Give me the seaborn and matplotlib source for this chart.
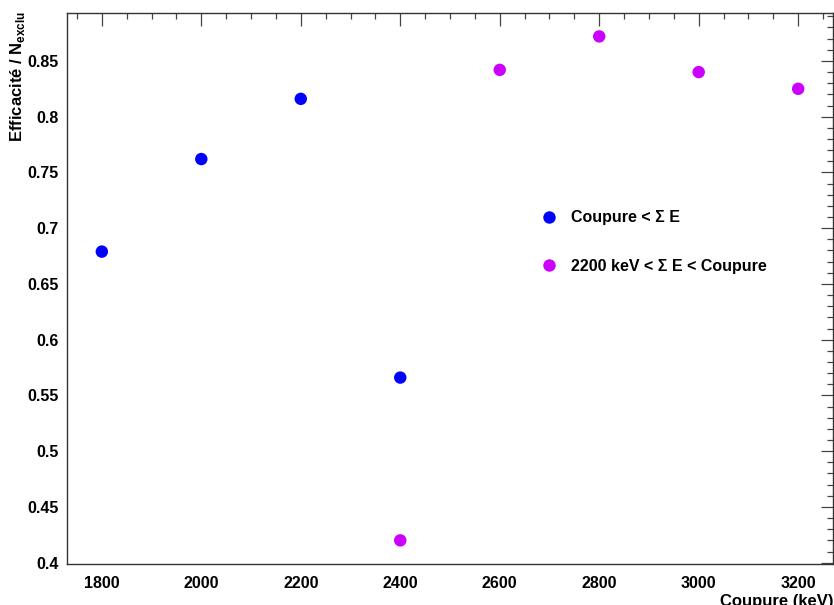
import matplotlib
matplotlib.use("Agg")
import matplotlib.pyplot as plt
import seaborn as sns
import pandas as pd
from matplotlib.ticker import MultipleLocator, FuncFormatter

sns.set_style("white")
plt.rcParams['font.family'] = ['Liberation Sans', 'DejaVu Sans']
plt.rcParams['font.weight'] = 'bold'
plt.rcParams['text.color'] = 'black'
plt.rcParams['xtick.labelcolor'] = 'black'
plt.rcParams['ytick.labelcolor'] = 'black'
plt.rcParams['mathtext.fontset'] = 'custom'
plt.rcParams['mathtext.rm'] = 'Liberation Sans:bold'
plt.rcParams['mathtext.bf'] = 'Liberation Sans:bold'

cut_blue = [1800, 2000, 2200, 2400]
eff_blue = [0.679, 0.762, 0.816, 0.566]
cut_mag = [2400, 2600, 2800, 3000, 3200]
eff_mag = [0.420, 0.842, 0.872, 0.840, 0.825]
label_blue = "Coupure < Σ E"
label_mag = "2200 keV < Σ E < Coupure"

df = pd.DataFrame({
    "cut": cut_blue + cut_mag,
    "eff": eff_blue + eff_mag,
    "serie": [label_blue] * len(cut_blue) + [label_mag] * len(cut_mag),
})

fig = plt.figure(figsize=(8.34, 6.05), dpi=100)
ax = fig.add_axes([67/834, 1 - 564/605, (833-67)/834, (564-13)/605])

sns.scatterplot(data=df, x="cut", y="eff", hue="serie",
                palette={label_blue: "#0000ff", label_mag: "#cc00ff"},
                s=80, edgecolor="none", ax=ax, legend=True)

ax.set_xlim(1730, 3270)
ax.set_ylim(0.3988, 0.893)
ax.xaxis.set_major_locator(MultipleLocator(200))
ax.xaxis.set_minor_locator(MultipleLocator(50))
ax.yaxis.set_major_locator(MultipleLocator(0.05))
ax.yaxis.set_minor_locator(MultipleLocator(0.01))
ax.yaxis.set_major_formatter(FuncFormatter(lambda v, p: f"{v:.2f}".rstrip('0').rstrip('.')))
ax.tick_params(which='both', direction='in', top=True, right=True, color='#444444')
ax.tick_params(which='major', length=9, width=0.9, labelsize=11.5, pad=9)
ax.tick_params(which='minor', length=4.5, width=0.9)
ax.tick_params(axis='y', which='major', pad=6)
for t in ax.get_xticklabels() + ax.get_yticklabels():
    t.set_fontweight('bold')
for sp in ax.spines.values():
    sp.set_color('#333333')
    sp.set_linewidth(1.0)

ax.set_xlabel("")
ax.set_ylabel("")
fig.text(833/834, 1 - 606/605, "Coupure (keV)", ha='right', va='baseline',
         fontsize=12, fontweight='bold', color='black')
fig.text(18/834, 1 - 11/605, r"Efficacité / N$_{\mathbf{exclu}}$", rotation=90,
         ha='center', va='top', fontsize=12, fontweight='bold', color='black')

leg = ax.legend(loc='upper left', bbox_to_anchor=(0.590, 0.668), frameon=False,
                fontsize=11.5, labelspacing=2.1, handletextpad=0.33, markerscale=1.0)
for t in leg.get_texts():
    t.set_fontweight('bold')
    t.set_color('black')

fig.savefig("out.png", dpi=100)
